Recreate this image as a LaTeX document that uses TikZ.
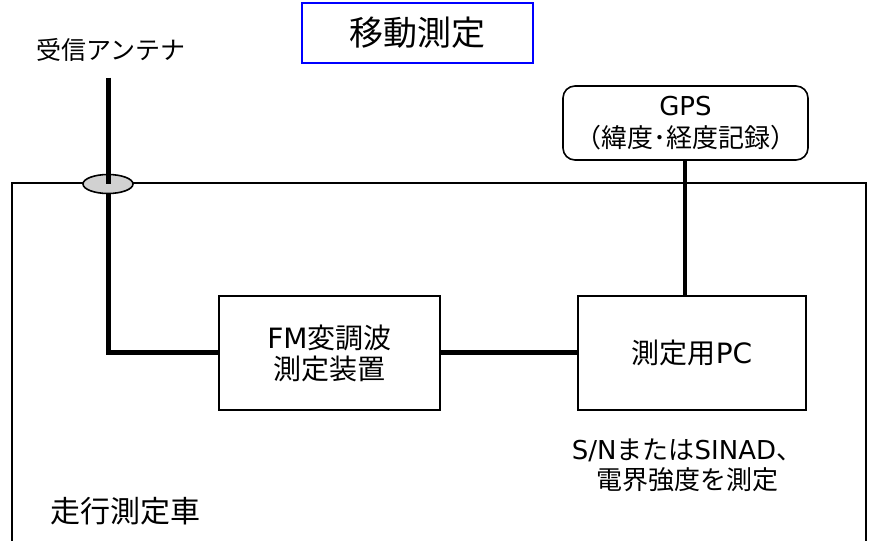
\documentclass[tikz,border=0pt]{standalone}
\usepackage{fontspec}
\setmainfont{Noto Sans CJK JP}
\newfontfamily\lat{DejaVu Sans}
\usetikzlibrary{shapes.geometric}
\begin{document}
\begin{tikzpicture}[x=1pt,y=-1pt,
  box/.style={draw=black,line width=1.4pt,minimum width=221pt,minimum height=114pt,align=center,font=\fontsize{28}{33}\selectfont,inner sep=0pt},
  thick cable/.style={line width=5pt},
  lbl/.style={align=center,inner sep=0pt}]
\useasboundingbox (0,0) rectangle (874,540);
% outer vehicle
\draw[line width=1.8pt] (12,560) -- (12,183) -- (866,183) -- (866,560);
% title
\node[draw=blue,line width=1.4pt,minimum width=231pt,minimum height=60pt,font=\fontsize{34}{38}\selectfont,inner sep=0pt] (title) at (417.5,33) {移動測定};
% antenna label
\node[lbl,font=\fontsize{25}{28}\selectfont] (antlbl) at (111,50) {受信アンテナ};
% boxes
\node[box] (fm) at (329.5,353) {{\lat FM}変調波\\[-2pt]測定装置};
\node[box,minimum width=228pt] (pc) at (692,353) {測定用{\lat PC}};
\node[draw=black,line width=1.6pt,rounded corners=12pt,minimum width=245pt,minimum height=74pt,align=center,font=\fontsize{26}{30}\selectfont,inner sep=0pt] (gps) at (685.5,123) {{\lat GPS}\\[2pt]（緯度･経度記録）};
% antenna
\coordinate (anttop) at (108,78);
\coordinate (antcorner) at (108,352);
\draw[thick cable] (anttop) -- (antcorner) -- (fm.west |- antcorner);
\node[ellipse,draw=black,fill=black!18,line width=1.6pt,minimum width=50pt,minimum height=19pt,inner sep=0pt] (feed) at (108,184) {};
\draw[thick cable] (anttop) -- (feed.center);
% connections
\draw[thick cable] (fm.east |- antcorner) -- (pc.west |- antcorner);
\draw[line width=4pt] (gps.south -| 685,0) -- (pc.north -| 685,0);
% notes
\node[lbl,font=\fontsize{26}{30}\selectfont] (note) at (687,465) {{\lat S/N}または{\lat SINAD}、\\電界強度を測定};
\node[lbl,font=\fontsize{30}{34}\selectfont,anchor=west] (car) at (50,511) {走行測定車};
\end{tikzpicture}
\end{document}
